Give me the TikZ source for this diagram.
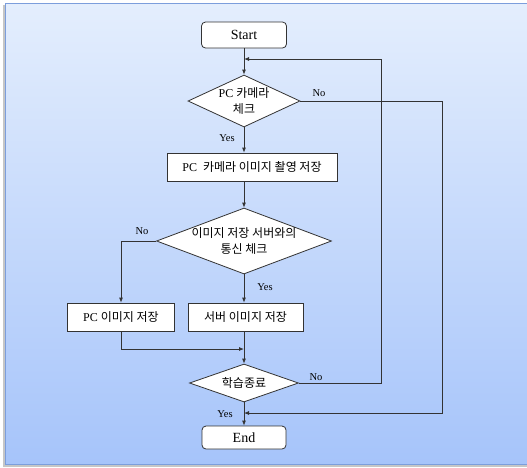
\documentclass[tikz,border=0pt]{standalone}
\usepackage{fontspec}
\setmainfont{Liberation Serif}
\newfontfamily\kr{Noto Sans CJK KR}
\usetikzlibrary{shapes.geometric,arrows.meta}
\definecolor{bgtop}{HTML}{E4EEFD}
\definecolor{bgbot}{HTML}{A6C4FA}
\definecolor{bgedge}{HTML}{7C9EDC}
\definecolor{lin}{HTML}{333333}
\newcommand{\K}[1]{{\kr #1}}
\tikzset{
  every node/.style={font=\fontsize{12}{14}\selectfont},
  termbox/.style={draw=lin, fill=white, rounded corners=4pt, line width=0.8pt, inner sep=0pt, font=\fontsize{14}{16}\selectfont},
  procbox/.style={draw=lin, fill=white, line width=0.8pt, inner sep=0pt},
  dia/.style={draw=lin, fill=white, diamond, line width=0.8pt, inner sep=0pt},
  flow/.style={draw=lin, line width=0.8pt, -{Latex[length=5pt,width=4pt]}},
  plain/.style={draw=lin, line width=0.8pt},
  lab/.style={font=\fontsize{10.5}{12}\selectfont, inner sep=0pt}
}
\begin{document}
\begin{tikzpicture}[x=1pt,y=-1pt]
\useasboundingbox (0,0) rectangle (527,467);
% background
\fill[gray!45] (3,5) rectangle (527,467);
\shade[top color=bgtop, bottom color=bgbot] (5,3) rectangle (527,464);
\draw[bgedge, line width=0.8pt] (527,3) -- (5,3) -- (5,464) -- (527,464);

% nodes
\node[termbox, minimum width=85pt, minimum height=26pt] (start) at (244,35) {Start};
\node[dia, minimum width=112pt, minimum height=52pt,
  label={[align=center, font=\fontsize{12}{16}\selectfont]center:PC \K{카메라}\\\K{체크}}] (d1) at (244,101) {};
\node[procbox, minimum width=170pt, minimum height=28pt] (b2) at (252,167) {PC\ \ \K{카메라 이미지 촬영 저장}};
\node[dia, minimum width=175pt, minimum height=66pt,
  label={[align=center, font=\fontsize{12}{16}\selectfont]center:\K{이미지 저장 서버와의}\\\K{통신 체크}}] (d2) at (244,241) {};
\node[procbox, minimum width=107pt, minimum height=28pt] (pc) at (121,317) {PC \K{이미지 저장}};
\node[procbox, minimum width=115pt, minimum height=28pt] (sv) at (245.5,317) {\K{서버 이미지 저장}};
\node[dia, minimum width=109pt, minimum height=38pt,
  label={[font=\fontsize{12}{14}\selectfont]center:\K{학습종료}}] (d3) at (244,383) {};
\node[termbox, minimum width=84pt, minimum height=23pt] (end) at (244,437.5) {End};

% helper coordinates
\coordinate (loopin) at (244,59);
\coordinate (loopR) at (381,59);
\coordinate (noR) at (442,413);
\coordinate (endin) at (244,413);
\coordinate (pcL) at (121,349);
\coordinate (merge) at (244,349);

% labels
\node[lab] (yes1) at (227,138) {Yes};
\node[lab] (no1) at (319,93) {No};
\node[lab] (no2) at (142,231) {No};
\node[lab] (yes2) at (265,287) {Yes};
\node[lab] (no3) at (316,377) {No};
\node[lab] (yes3) at (225,414) {Yes};

% connectors
\draw[flow] (start) -- (d1);
\draw[flow] (d1.south) -- (d1.south |- b2.north);
\draw[flow] (d1.east) -| (noR) -- (endin);
\draw[flow] (d2.north |- b2.south) -- (d2.north);
\draw[flow] (d2.west) -| (pc.north);
\draw[flow] (d2.south) -- (d2.south |- sv.north);
\draw[plain] (pc.south) -- (pcL);
\draw[flow] (pcL) -- (merge);
\draw[flow] (d2.south |- sv.south) -- (d3.north);
\draw[flow] (d3.east) -| (loopR) -- (loopin);
\draw[flow] (d3.south) -- (end.north);
\end{tikzpicture}
\end{document}
